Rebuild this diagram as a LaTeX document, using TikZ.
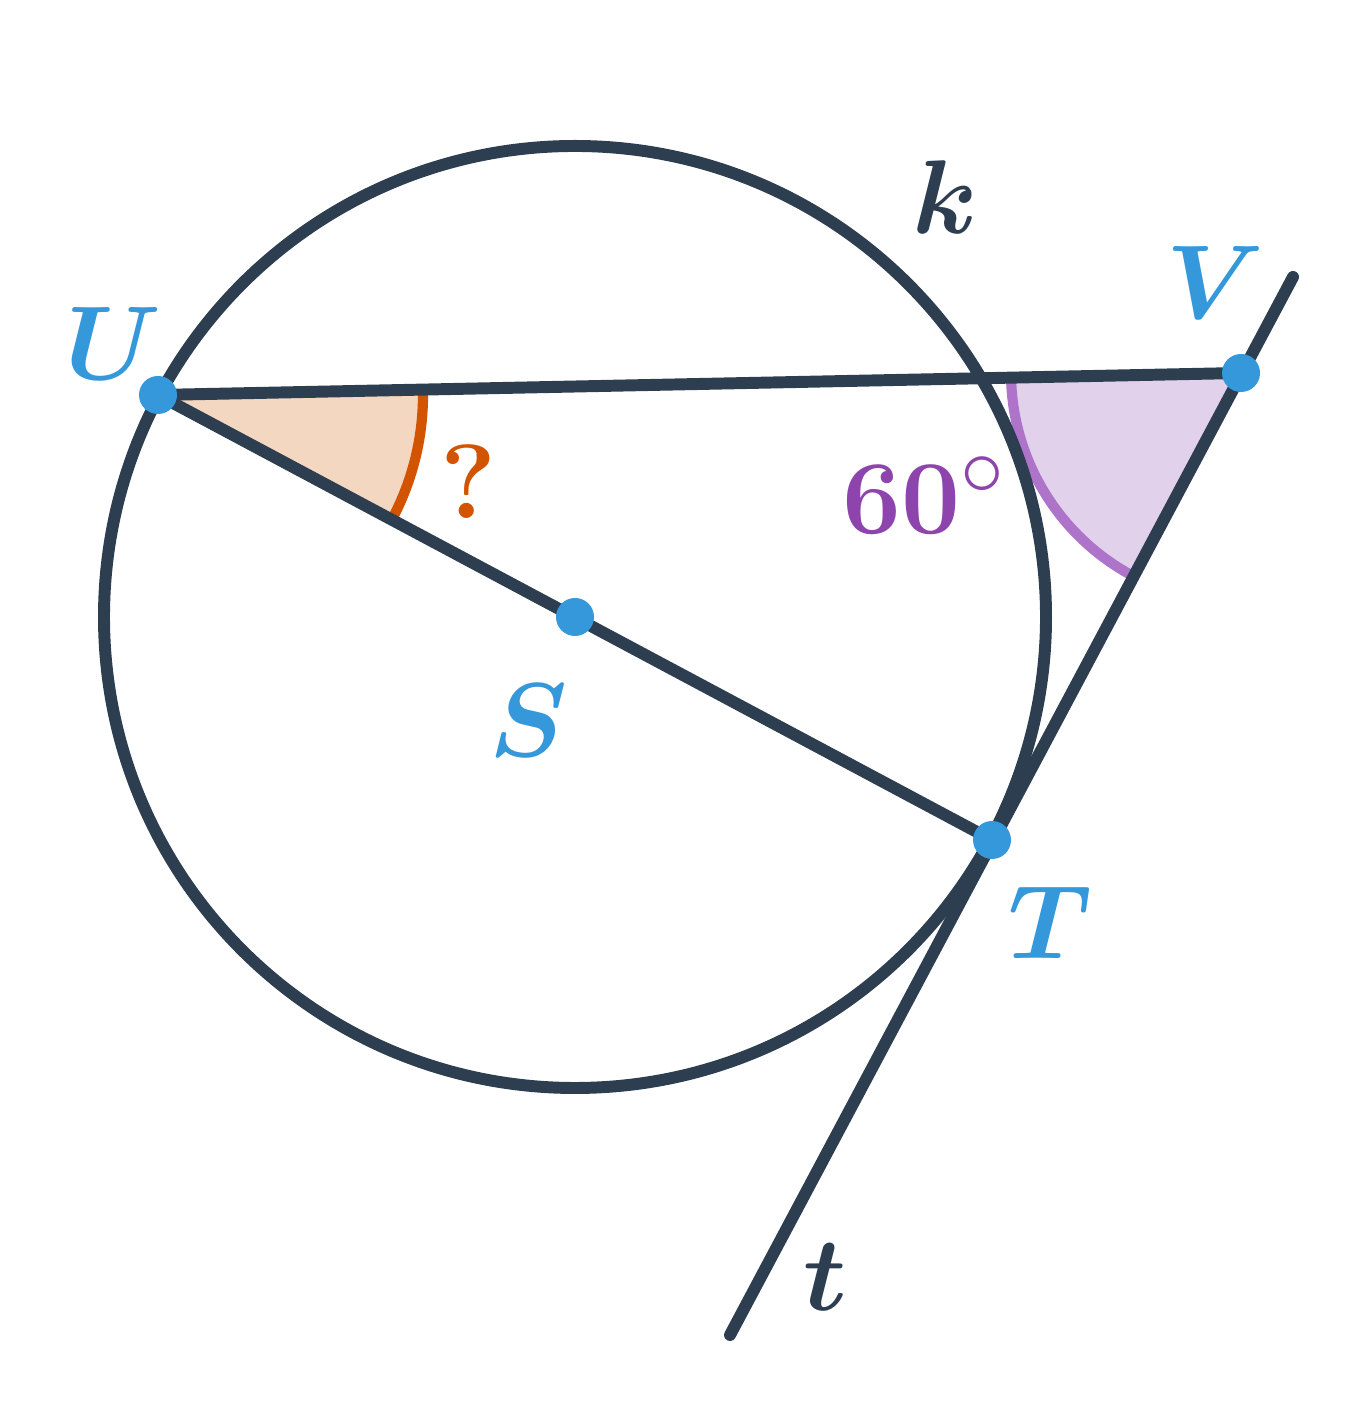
\documentclass[tikz,border=0pt]{standalone}
\usepackage{amsmath,bm}
\usepackage{graphicx}
\usetikzlibrary{calc}
\definecolor{dark}{HTML}{2C3E50}
\definecolor{blu}{HTML}{3498DB}
\definecolor{org}{HTML}{D35400}
\definecolor{orgfill}{HTML}{F3D7C1}
\definecolor{pur}{HTML}{8E44AD}
\definecolor{purline}{HTML}{AD74CA}
\definecolor{purfill}{HTML}{E2D1EA}
\newcommand{\mylbl}[1]{\scalebox{1.2}{$#1$}}
\begin{document}
\begin{tikzpicture}[
  geo/.style={draw=dark,line width=3.4pt,line cap=round},
  dot/.style={circle,fill=blu,inner sep=0pt,minimum size=0.38cm},
  lbl/.style={text=blu,font=\fontsize{24.88}{30}\selectfont},
  dlbl/.style={text=dark,font=\fontsize{24.88}{30}\selectfont},
]
\useasboundingbox (0,0) rectangle (13.47,14.07);
\coordinate (S) at (5.75,7.90);
\coordinate (U) at (1.58,10.12);
\coordinate (T) at (9.92,5.67);
\coordinate (V) at (12.41,10.34);
\coordinate (tTop) at (12.93,11.30);
\coordinate (tBot) at (7.30,0.72);
% angle fills
\fill[orgfill] (U) -- ++(-28.08:2.65) arc[start angle=-28.08,end angle=1.16,radius=2.65] -- cycle;
\draw[org,line width=2.9pt] ($(U)+(-28.08:2.65)$) arc[start angle=-28.08,end angle=1.16,radius=2.65];
\fill[purfill] (V) -- ++(181.16:2.3) arc[start angle=181.16,end angle=241.9,radius=2.3] -- cycle;
\draw[purline,line width=2.9pt] ($(V)+(181.16:2.3)$) arc[start angle=181.16,end angle=241.9,radius=2.3];
% geometry
\draw[geo] (S) circle[radius=4.71];
\draw[geo] (U) -- (V);
\draw[geo] (U) -- (T);
\draw[geo] (tBot) -- (tTop);
% points
\node[dot] (nU) at (U) {};
\node[dot] (nS) at (S) {};
\node[dot] (nT) at (T) {};
\node[dot] (nV) at (V) {};
% labels
\node[lbl] (lU) at (1.13,10.63) {\mylbl{\bm{U}}};
\node[lbl] (lV) at (12.15,11.24) {\mylbl{\bm{V}}};
\node[lbl] (lS) at (5.29,6.86) {\mylbl{\bm{S}}};
\node[lbl] (lT) at (10.50,4.84) {\mylbl{\bm{T}}};
\node[dlbl] (lk) at (9.45,12.10) {\mylbl{\bm{k}}};
\node[dlbl] (lt) at (8.25,1.30) {\mylbl{\bm{t}}};
\node[text=org,font=\fontsize{30}{36}\selectfont\bfseries] (lq) at (4.68,9.25) {?};
\node[text=pur,font=\fontsize{24.88}{30}\selectfont] (la) at (9.24,9.12) {\mylbl{\mathbf{60^\circ}}};
\end{tikzpicture}
\end{document}
